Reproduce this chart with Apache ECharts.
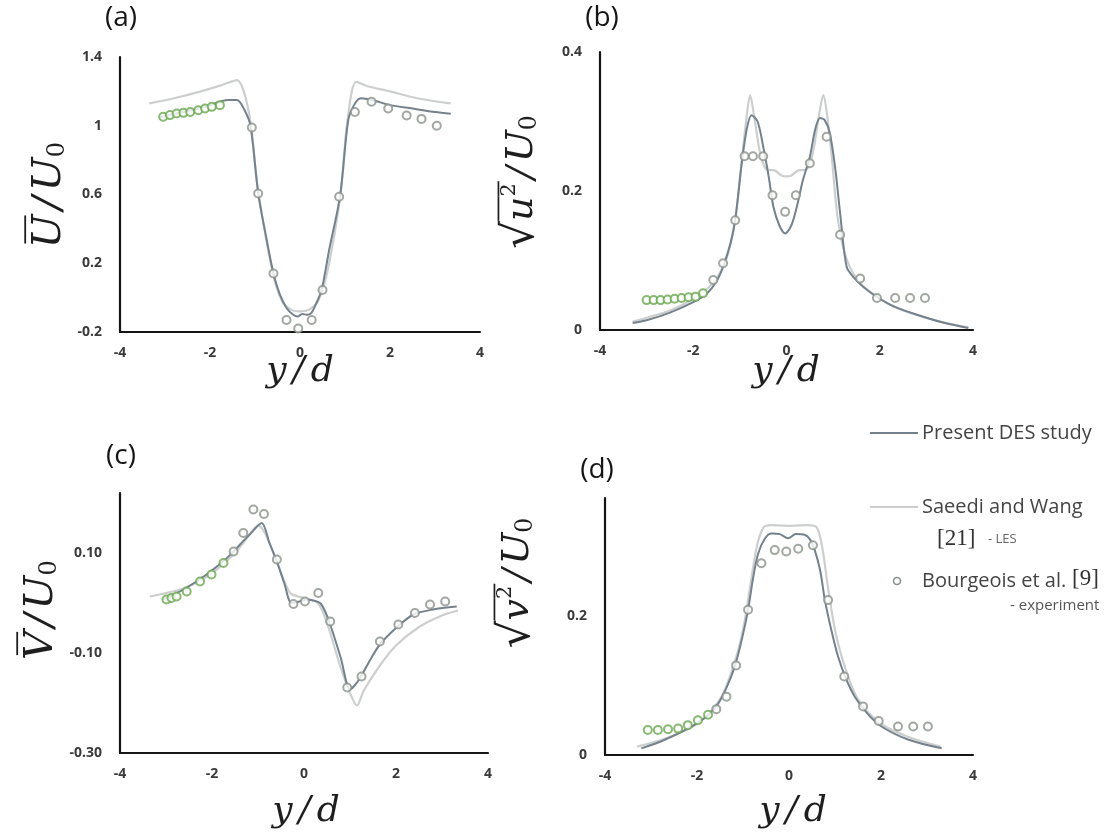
<!DOCTYPE html>
<html>
<head>
<meta charset="utf-8">
<script src="https://cdn.jsdelivr.net/npm/echarts@6/dist/echarts.min.js"></script>
<style>html,body{margin:0;padding:0;background:#fff}#c{width:1113px;height:836px}</style>
</head>
<body>
<div id="c"></div>
<script>
// ---------- DATA ----------
// (a) mean streamwise velocity U/U0
const aDesX = [-3.1,-2.6,-2.1,-1.6,-1.4,-1.25,-1.1,-0.93,-0.75,-0.59,-0.45,-0.3,-0.15,-0.05,0.05,0.15,0.25,0.35,0.48,0.65,0.89,1.07,1.2,1.35,1.6,2.0,2.5,3.0,3.35];
const aDesY = [1.05,1.08,1.11,1.15,1.15,1.10,1.00,0.61,0.35,0.14,0.02,-0.06,-0.10,-0.11,-0.095,-0.10,-0.09,-0.04,0.044,0.28,0.59,1.03,1.12,1.16,1.15,1.12,1.10,1.08,1.07];
const aLesX = [-3.35,-2.8,-2.2,-1.7,-1.4,-1.25,-1.1,-0.93,-0.6,-0.4,-0.2,0,0.2,0.4,0.6,0.9,1.05,1.25,1.5,2.0,2.6,3.35];
const aLesY = [1.13,1.16,1.20,1.24,1.265,1.2,1.02,0.62,0.14,-0.02,-0.07,-0.08,-0.07,-0.02,0.14,0.6,1.02,1.255,1.23,1.2,1.16,1.13];
const aExpX = [-3.04,-2.89,-2.74,-2.59,-2.44,-2.26,-2.11,-1.96,-1.78,-1.07,-0.93,-0.59,-0.3,-0.04,0.26,0.5,0.87,1.22,1.59,1.96,2.37,2.7,3.04];
const aExpY = [1.052,1.062,1.071,1.075,1.08,1.09,1.10,1.11,1.12,0.99,0.606,0.14,-0.13,-0.18,-0.13,0.044,0.587,1.08,1.14,1.10,1.06,1.04,1.0];

// (b) streamwise fluctuation
const bDesX = [-3.3,-3.0,-2.5,-2.0,-1.7,-1.5,-1.36,-1.2,-1.1,-0.96,-0.85,-0.75,-0.62,-0.5,-0.38,-0.28,-0.15,-0.03,0.1,0.22,0.35,0.5,0.62,0.72,0.82,0.93,1.05,1.15,1.29,1.45,1.65,2.0,2.3,2.8,3.4,3.9];
const bDesY = [0.01,0.014,0.025,0.04,0.053,0.07,0.091,0.125,0.158,0.24,0.29,0.309,0.3,0.264,0.22,0.177,0.15,0.139,0.15,0.177,0.215,0.249,0.29,0.305,0.302,0.283,0.23,0.168,0.091,0.075,0.062,0.045,0.034,0.022,0.01,0.003];
const bLesX = [-3.3,-2.5,-2.0,-1.6,-1.3,-1.1,-0.95,-0.85,-0.78,-0.7,-0.55,-0.4,-0.28,-0.1,0,0.1,0.28,0.4,0.55,0.7,0.79,0.87,0.97,1.1,1.3,1.6,2.0,2.5,3.3,3.9];
const bLesY = [0.012,0.028,0.045,0.066,0.1,0.16,0.25,0.31,0.338,0.31,0.25,0.23,0.23,0.222,0.221,0.222,0.23,0.23,0.25,0.31,0.338,0.31,0.25,0.16,0.1,0.066,0.045,0.028,0.012,0.004];
const bExpX = [-3.0,-2.85,-2.7,-2.55,-2.4,-2.25,-2.1,-1.95,-1.79,-1.57,-1.36,-1.1,-0.9,-0.72,-0.5,-0.3,-0.03,0.2,0.5,0.86,1.15,1.58,1.94,2.33,2.65,2.97];
const bExpY = [0.043,0.043,0.043,0.044,0.045,0.046,0.047,0.048,0.053,0.072,0.096,0.158,0.25,0.25,0.25,0.194,0.17,0.194,0.24,0.278,0.137,0.074,0.046,0.046,0.046,0.046];

// (c) mean cross-stream velocity V/U0
const cDesX = [-3.06,-2.6,-2.12,-1.7,-1.39,-1.15,-0.92,-0.75,-0.59,-0.43,-0.27,-0.1,0.06,0.2,0.35,0.45,0.57,0.8,1.0,1.1,1.22,1.45,1.65,2.0,2.38,2.8,3.32];
const cDesY = [0.007,0.028,0.057,0.088,0.117,0.14,0.16,0.12,0.083,0.04,0.0,0.003,0.007,0.005,0.0,-0.015,-0.043,-0.11,-0.173,-0.165,-0.15,-0.112,-0.083,-0.05,-0.023,-0.013,-0.007];
const cLesX = [-3.35,-2.6,-2.0,-1.5,-1.2,-1.0,-0.85,-0.6,-0.3,0,0.3,0.5,0.8,1.0,1.15,1.3,1.65,2.0,2.5,3.0,3.35];
const cLesY = [0.013,0.03,0.06,0.1,0.135,0.155,0.14,0.085,0.02,0.01,0.0,-0.04,-0.13,-0.18,-0.205,-0.175,-0.125,-0.085,-0.048,-0.025,-0.015];
const cExpX = [-2.99,-2.88,-2.77,-2.55,-2.26,-2.01,-1.75,-1.53,-1.32,-1.1,-0.87,-0.59,-0.23,0.02,0.31,0.57,0.94,1.25,1.65,2.05,2.41,2.74,3.07];
const cExpY = [0.007,0.01,0.013,0.023,0.043,0.057,0.08,0.103,0.14,0.187,0.178,0.087,-0.002,0.003,0.02,-0.037,-0.169,-0.147,-0.077,-0.043,-0.02,-0.003,0.003];

// (d) cross-stream fluctuation
const dDesX = [-3.21,-2.7,-2.12,-1.8,-1.54,-1.35,-1.18,-1.03,-0.89,-0.78,-0.67,-0.52,-0.38,-0.2,-0.02,0.15,0.34,0.46,0.56,0.68,0.78,0.92,1.07,1.25,1.43,1.7,2.01,2.6,3.32];
const dDesY = [0.0096,0.022,0.041,0.055,0.074,0.098,0.127,0.165,0.209,0.255,0.29,0.312,0.319,0.318,0.312,0.318,0.317,0.31,0.295,0.265,0.223,0.18,0.141,0.108,0.084,0.06,0.041,0.022,0.0096];
const dLesX = [-3.3,-2.6,-2.0,-1.5,-1.2,-1.0,-0.85,-0.7,-0.55,-0.4,0,0.4,0.6,0.72,0.85,1.0,1.2,1.5,2.0,2.6,3.3];
const dLesY = [0.012,0.026,0.045,0.08,0.13,0.18,0.24,0.3,0.328,0.331,0.33,0.331,0.328,0.3,0.24,0.18,0.13,0.08,0.045,0.026,0.012];
const dExpX = [-3.07,-2.85,-2.63,-2.41,-2.2,-1.98,-1.76,-1.58,-1.36,-1.15,-0.89,-0.6,-0.31,-0.06,0.2,0.52,0.85,1.2,1.61,1.95,2.37,2.7,3.02];
const dExpY = [0.036,0.036,0.037,0.038,0.043,0.05,0.058,0.066,0.084,0.129,0.209,0.276,0.295,0.293,0.297,0.302,0.223,0.113,0.07,0.049,0.041,0.041,0.041];

// axis ticks
const xTicks = {min:-4, max:4, interval:2};
const aTicks = {min:-0.2, max:1.4, interval:0.4};
const bTicks = {min:0, max:0.4, interval:0.2};
const cTicks = {min:-0.3, max:0.22, interval:0.2};
const dTicks = {min:0, max:0.37, interval:0.2};

const panelLabels = ['(a)','(b)','(c)','(d)'];
const legendNames = ['Present DES study','Saeedi and Wang','[21]','- LES','Bourgeois et al.','[9]','- experiment'];

// ---------- CHART ----------
const zip = (xs, ys) => xs.map((x,i)=>[x, ys[i]]);
const DES_C = '#74828d', LES_C = '#cdcfcf', EXP_G = '#8a918a', EXP_GREEN = '#68a84e';
const grids = [
  {left:120, top:57, width:360, height:275},
  {left:600, top:52, width:373, height:278},
  {left:120, top:493, width:368, height:260},
  {left:605, top:498, width:368, height:257}
];
const yT = [aTicks,bTicks,cTicks,dTicks];
const yFmt = [
  v => String(Number(v.toFixed(1))),
  v => String(Number(v.toFixed(1))),
  v => v.toFixed(2),
  v => String(Number(v.toFixed(1)))
];
const labelStyle = {fontFamily:'"Open Sans", sans-serif', fontWeight:'bold', fontSize:14, color:'#3a3a3a'};
const xAxes = grids.map((g,i)=>({
  gridIndex:i, type:'value', min:xTicks.min, max:xTicks.max, interval:xTicks.interval,
  axisLine:{show:true, onZero:false, lineStyle:{color:'#151515', width:2.2}},
  axisTick:{show:false}, splitLine:{show:false},
  axisLabel:Object.assign({margin:14}, labelStyle)
}));
const yAxes = grids.map((g,i)=>({
  gridIndex:i, type:'value', min:yT[i].min, max:yT[i].max, interval:yT[i].interval,
  axisLine:{show:true, onZero:false, lineStyle:{color:'#151515', width:2.2}},
  axisTick:{show:false}, splitLine:{show:false},
  axisLabel:Object.assign({margin:18, formatter:yFmt[i], showMaxLabel: (i===2||i===3)?false:true}, labelStyle)
}));
const sets = [
  [aDesX,aDesY,aLesX,aLesY,aExpX,aExpY],
  [bDesX,bDesY,bLesX,bLesY,bExpX,bExpY],
  [cDesX,cDesY,cLesX,cLesY,cExpX,cExpY],
  [dDesX,dDesY,dLesX,dLesY,dExpX,dExpY]
];
const series = [];
sets.forEach((s,i)=>{
  series.push({type:'line', name:'Saeedi and Wang [21] - LES', xAxisIndex:i, yAxisIndex:i, data:zip(s[2],s[3]),
    showSymbol:false, smooth:0.3, lineStyle:{color:LES_C, width:2.2}, z:2, silent:true});
  series.push({type:'line', name:'Present DES study', xAxisIndex:i, yAxisIndex:i, data:zip(s[0],s[1]),
    showSymbol:false, smooth:0.3, lineStyle:{color:DES_C, width:2}, z:3, silent:true});
  series.push({type:'scatter', name:'Bourgeois et al. [9] - experiment', xAxisIndex:i, yAxisIndex:i, data:zip(s[4],s[5]),
    symbol:'emptyCircle', symbolSize:8,
    itemStyle:{color:p => (p.value[0] < -1.7 ? EXP_GREEN : EXP_G), borderWidth:1.6}, z:4, silent:true});
});

// ---------- math-like titles via graphic ----------
const mctx = document.createElement('canvas').getContext('2d');
function mw(t, font){ mctx.font = font; return mctx.measureText(t).width; }
function mathTitle(cx, cy, segs, fs, rotate){
  let x = 0; const items = [];
  segs.forEach(s=>{
    const size = fs*(s.scale||1);
    const font = (s.up?'normal':'italic') + ' normal ' + size.toFixed(1) + 'px "DejaVu Serif"';
    const w = mw(s.t, font);
    items.push({s, size, font, x:x+(s.pre||0), w});
    x += w + (s.pre||0) + (s.post||0);
  });
  const total = x; const children = [];
  items.forEach(it=>{
    const lx = it.x - total/2;
    children.push({type:'text', x:lx, y:(it.s.dy||0)*fs, style:{text:it.s.t, font:it.font, fill:'#1e1e1e', textAlign:'left', textVerticalAlign:'middle'}});
    if (it.s.bar) children.push({type:'line', shape:{x1:lx+(it.s.barL||0)*fs, y1:-it.s.bar*fs, x2:lx+it.w+(it.s.barR||0)*fs, y2:-it.s.bar*fs}, style:{stroke:'#1e1e1e', lineWidth:Math.max(1.5, fs*0.045)}});
  });
  return {type:'group', x:cx, y:cy, rotation: rotate ? Math.PI/2 : 0, children};
}
const yd = [{t:'y', post:0.0},{t:'/', up:false, pre:6, post:6},{t:'d'}];
const graphics = [
  mathTitle(300, 372, yd, 36, false),
  mathTitle(786, 372, yd, 36, false),
  mathTitle(306, 812, yd, 36, false),
  mathTitle(793, 812, yd, 36, false),
  mathTitle(50, 195, [{t:'U', bar:0.62, barL:0.12, barR:-0.02},{t:'/', pre:5, post:5},{t:'U'},{t:'0', up:true, scale:0.62, dy:0.2}], 40, true),
  mathTitle(522, 182, [{t:'√', up:true, scale:1.15},{t:'u', bar:0.62, barR:0},{t:'2', up:true, scale:0.55, dy:-0.32, bar:0.62, barR:0.05},{t:'/', pre:4, post:4},{t:'U'},{t:'0', up:true, scale:0.62, dy:0.2}], 38, true),
  mathTitle(42, 610, [{t:'V', bar:0.62, barL:0.12, barR:-0.02},{t:'/', pre:4, post:4},{t:'U'},{t:'0', up:true, scale:0.62, dy:0.2}], 40, true),
  mathTitle(518, 583, [{t:'√', up:true, scale:1.15},{t:'v', bar:0.62, barR:0},{t:'2', up:true, scale:0.55, dy:-0.32, bar:0.62, barR:0.05},{t:'/', pre:4, post:4},{t:'U'},{t:'0', up:true, scale:0.62, dy:0.2}], 38, true)
];
// panel labels
const panelPos = [[121,18],[602,18],[121,456],[597,470]];
panelLabels.forEach((t,i)=>graphics.push({type:'text', x:panelPos[i][0], y:panelPos[i][1],
  style:{text:t, font:'normal 28px "Open Sans", sans-serif', fill:'#151515', textAlign:'center', textVerticalAlign:'middle'}}));
// legend
const legFont = 'normal 20px "Open Sans", sans-serif';
graphics.push(
  {type:'line', shape:{x1:870,y1:433,x2:918,y2:433}, style:{stroke:DES_C, lineWidth:2}},
  {type:'text', x:922, y:433, style:{text:legendNames[0], font:legFont, fill:'#444', textVerticalAlign:'middle'}},
  {type:'line', shape:{x1:870,y1:507,x2:918,y2:507}, style:{stroke:LES_C, lineWidth:2}},
  {type:'text', x:922, y:507, style:{text:legendNames[1], font:legFont, fill:'#444', textVerticalAlign:'middle'}},
  {type:'text', x:937, y:539, style:{text:legendNames[2], font:'normal 23px "Liberation Serif", serif', fill:'#333', textVerticalAlign:'middle'}},
  {type:'text', x:988, y:539, style:{text:legendNames[3], font:'normal 13px "Open Sans", sans-serif', fill:'#666', textVerticalAlign:'middle'}},
  {type:'circle', shape:{cx:897, cy:581, r:3.5}, style:{fill:'#fff', stroke:EXP_G, lineWidth:1.6}},
  {type:'text', x:922, y:581, style:{text:legendNames[4], font:legFont, fill:'#444', textVerticalAlign:'middle'}},
  {type:'text', x:1072, y:579, style:{text:legendNames[5], font:'normal 23px "Liberation Serif", serif', fill:'#333', textVerticalAlign:'middle'}},
  {type:'text', x:1010, y:606, style:{text:legendNames[6], font:'normal 15px "Open Sans", sans-serif', fill:'#555', textVerticalAlign:'middle'}}
);

const chart = echarts.init(document.getElementById('c'), null, {renderer:'canvas'});
chart.setOption({
  animation:false,
  backgroundColor:'#fff',
  grid:grids.map(g=>Object.assign({containLabel:false}, g)),
  xAxis:xAxes, yAxis:yAxes, series, graphic:graphics
});
</script>
</body>
</html>
